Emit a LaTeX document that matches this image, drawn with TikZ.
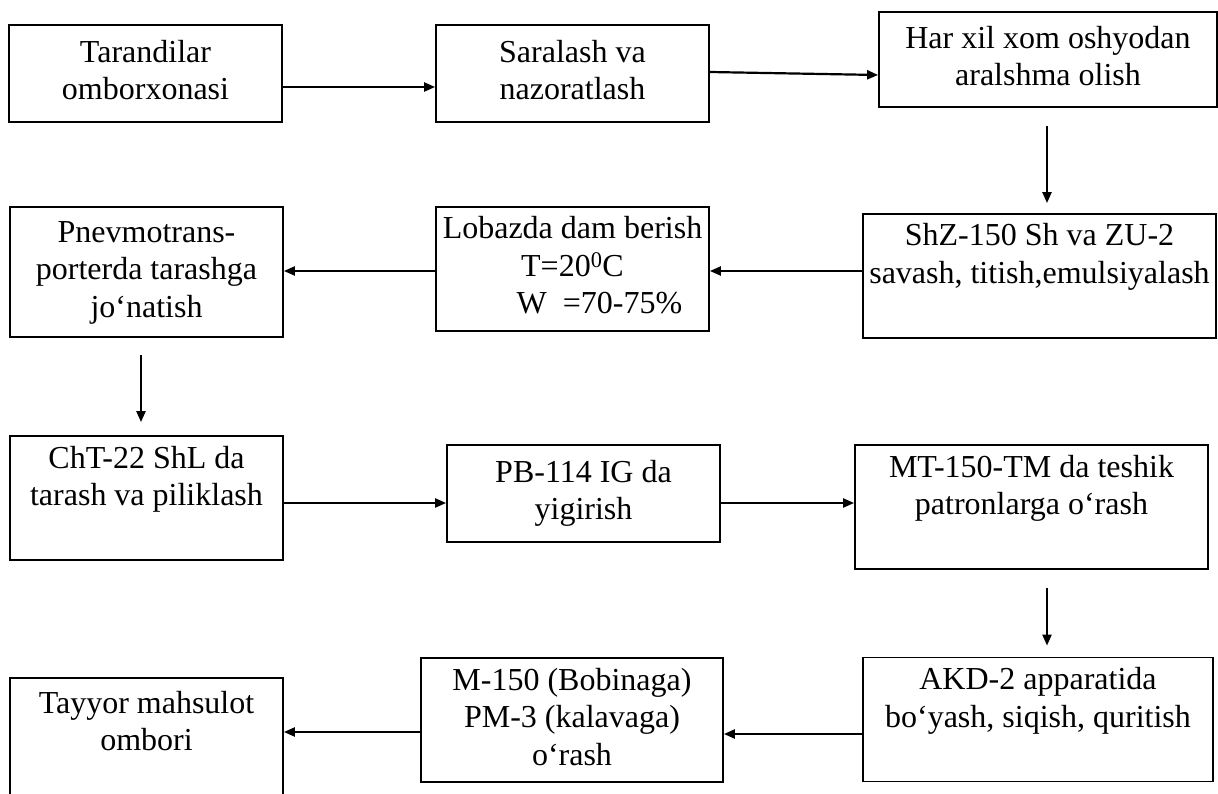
\documentclass[tikz,border=0pt]{standalone}
\usepackage{fontspec}
\setmainfont{Liberation Serif}
\usetikzlibrary{arrows.meta,positioning}

\begin{document}
\begin{tikzpicture}[
  x=1pt,y=-1pt,
  stage/.style={
    draw,
    line width=1.8pt,
    minimum width=273pt,
    minimum height=97pt,
    inner sep=0pt,
    align=center,
    font=\fontsize{32}{37.5}\selectfont
  },
  tallstage/.style={stage,minimum height=124pt},
  arrow/.style={-{Triangle[length=11pt,width=9pt]},line width=2.2pt}
]
  \useasboundingbox (0,0) rectangle (1218,794);
  % first row
  \node[stage] (store) at (145.5,73.5) {\strut Tarandilar\\omborxonasi\strut};
  \node[stage] (sorting) at (572.5,73.5) {\strut Saralash va\\nazoratlash\strut};
  \node[stage,minimum width=338pt,minimum height=95pt] (blend) at (1048,59.5) {\strut Har xil xom oshyodan\\aralshma olish\strut};
  % second row
  \node[tallstage,minimum width=353pt] (beating) at (1039.5,276) {\strut ShZ-150 Sh va ZU-2\\savash, titish,emulsiyalash\\\strut};
  \node[tallstage] (resting) at (572.5,269) {\strut Lobazda dam berish\\T=20\textsuperscript{0}C\\\hspace*{54pt}W\ \ =70-75\%\strut};
  \node[tallstage,minimum height=130pt] (transport) at (146.5,272) {\strut Pnevmotrans-\\porterda tarashga\\jo‘natish\strut};
  % third row
  \node[tallstage] (carding) at (146.5,498) {\strut ChT-22 ShL da\\tarash va piliklash\\\strut};
  \node[stage] (spinning) at (583.5,493.5) {\strut PB-114 IG da\\yigirish\strut};
  \node[tallstage,minimum width=353pt] (winding) at (1031.5,507) {\strut MT-150-TM da teshik\\patronlarga o‘rash\\\strut};
  % fourth row
  \node[tallstage,minimum width=350pt] (dyeing) at (1038,719.5) {\strut AKD-2 apparatida\\bo‘yash, siqish, quritish\\\strut};
  \node[tallstage,minimum width=302pt] (reeling) at (572,720) {\strut M-150 (Bobinaga)\\PM-3 (kalavaga)\\o‘rash\strut};
  \node[tallstage,minimum height=130pt] (warehouse) at (146.5,743) {\strut Tayyor mahsulot\\ombori\\\strut};

  \draw[arrow] ([yshift=-13.5pt]store.east) -- ([yshift=-13.5pt]sorting.west);
  \draw[arrow] ([yshift=1.5pt]sorting.east) -- ([yshift=-15.5pt]blend.west);
  \draw[arrow] ([xshift=-1pt,yshift=-18pt]blend.south) -- ([xshift=7.5pt,yshift=10pt]beating.north);
  \draw[arrow] ([yshift=5pt]beating.west) -- ([yshift=-2pt]resting.east);
  \draw[arrow] ([yshift=-2pt]resting.west) -- ([yshift=1pt]transport.east);
  \draw[arrow] ([xshift=-5.5pt,yshift=-17pt]transport.south) -- ([xshift=-5.5pt,yshift=13pt]carding.north);
  \draw[arrow] ([yshift=-5pt]carding.east) -- ([yshift=-9.5pt]spinning.west);
  \draw[arrow] ([yshift=-9.5pt]spinning.east) -- ([yshift=4pt]winding.west);
  \draw[arrow] ([xshift=15.5pt,yshift=-18pt]winding.south) -- ([xshift=9pt,yshift=11pt]dyeing.north);
  \draw[arrow] ([yshift=-14.5pt]dyeing.west) -- ([yshift=-14pt]reeling.east);
  \draw[arrow] ([yshift=-12pt]reeling.west) -- ([yshift=11pt]warehouse.east);
\end{tikzpicture}
\end{document}
